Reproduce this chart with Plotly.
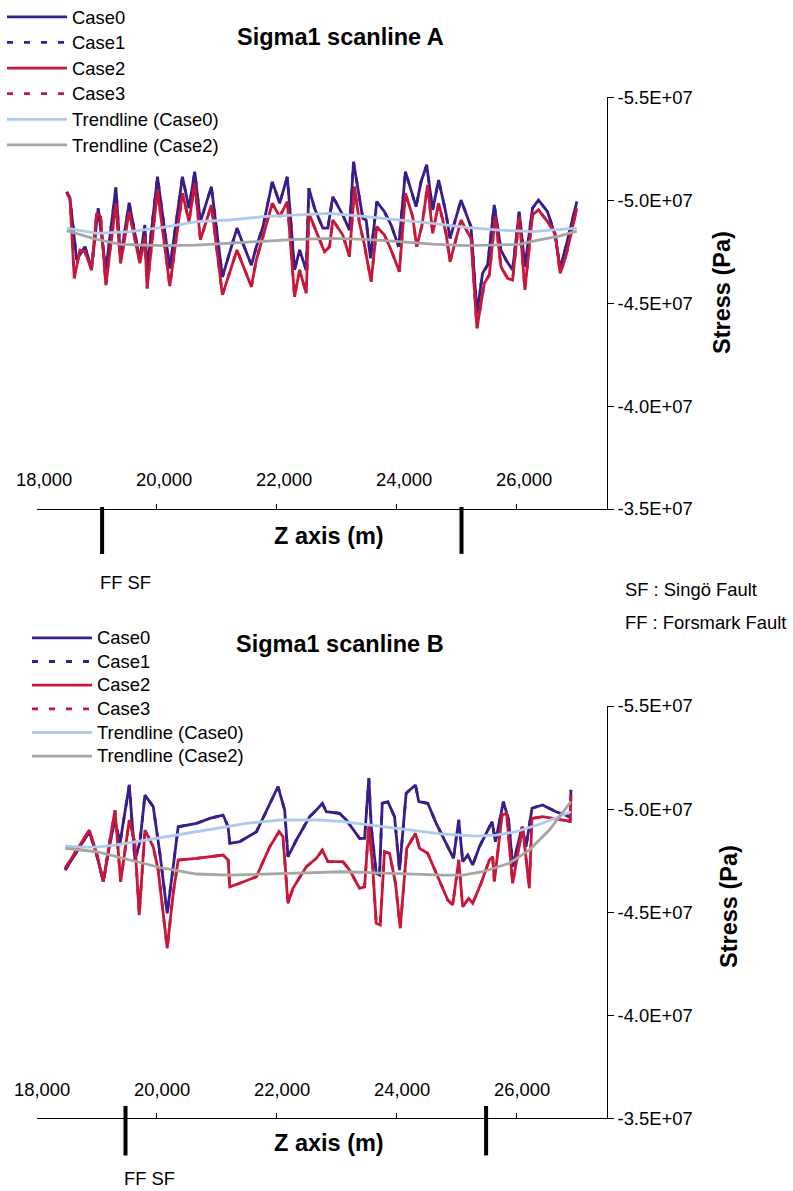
import numpy as np
import plotly.graph_objects as go

# ---------------------------------------------------------------
# Sigma1 along two scanlines: (Z position in m, stress in MPa)
# ---------------------------------------------------------------
a_case0 = [(18500, -50.41), (18554, -50.10), (18666, -47.10), (18804, -47.74), (18915, -46.69),
           (19025, -49.61), (19153, -46.61), (19320, -50.63), (19398, -47.18), (19541, -49.88),
           (19719, -47.10), (19802, -48.80), (19840, -46.61), (20013, -51.14), (20218, -46.69),
           (20429, -51.14), (20539, -49.61), (20634, -51.39), (20729, -48.96), (20912, -50.66),
           (21095, -46.28), (21338, -48.64), (21578, -46.85), (21661, -47.74), (21771, -48.71),
           (21927, -50.90), (22049, -49.85), (22177, -51.14), (22298, -46.61), (22381, -47.58),
           (22493, -46.61), (22536, -50.58), (22631, -49.61), (22769, -48.64), (22852, -48.64),
           (22935, -50.17), (23102, -49.28), (23213, -48.55), (23280, -51.87), (23351, -50.66),
           (23435, -49.12), (23491, -49.04), (23563, -47.18), (23668, -49.93), (23796, -49.44),
           (23907, -48.80), (24034, -47.74), (24145, -51.39), (24240, -50.50), (24323, -49.69),
           (24406, -50.90), (24500, -51.71), (24599, -49.53), (24699, -50.98), (24822, -49.36),
           (24889, -48.15), (25072, -50.01), (25238, -48.71), (25338, -44.51), (25431, -46.45),
           (25515, -46.85), (25626, -49.77), (25738, -47.58), (25821, -47.10), (25931, -46.61),
           (26042, -49.44), (26137, -46.77), (26263, -49.61), (26363, -50.01), (26513, -49.44),
           (26641, -48.31), (26724, -46.69), (26819, -47.74), (27002, -49.93)]
# Case1 coincides with Case0 on this scanline
a_case1 = list(a_case0)
a_case2 = [(18500, -50.37), (18554, -50.09), (18626, -46.21), (18720, -47.58), (18804, -47.50),
           (18915, -46.61), (18998, -49.36), (19065, -49.20), (19153, -45.88), (19320, -49.85),
           (19398, -46.94), (19541, -49.44), (19719, -46.94), (19802, -48.23), (19840, -45.72),
           (20013, -50.50), (20218, -45.83), (20429, -50.34), (20539, -48.96), (20634, -50.82),
           (20729, -48.07), (20912, -49.77), (21095, -45.40), (21338, -47.58), (21578, -45.80),
           (21661, -47.10), (21927, -49.85), (22049, -49.20), (22177, -49.93), (22298, -45.31),
           (22381, -46.61), (22493, -45.48), (22536, -49.36), (22659, -48.47), (22797, -47.50),
           (22881, -47.74), (22935, -49.04), (23102, -48.31), (23213, -47.26), (23297, -50.66),
           (23380, -48.88), (23463, -47.82), (23574, -46.04), (23668, -48.71), (23796, -48.31),
           (23907, -47.58), (24045, -46.53), (24145, -50.34), (24267, -49.20), (24333, -47.74),
           (24423, -48.80), (24516, -50.74), (24599, -48.39), (24699, -49.85), (24822, -48.39),
           (24889, -47.01), (25072, -49.04), (25238, -48.15), (25338, -43.78), (25460, -45.96),
           (25543, -46.37), (25643, -49.20), (25738, -46.77), (25847, -46.21), (25931, -46.12),
           (26042, -49.20), (26137, -45.64), (26263, -49.28), (26363, -49.53), (26513, -48.96),
           (26641, -48.39), (26724, -46.45), (26819, -47.26), (27002, -49.61)]
a_case3 = list(a_case2)
a_trend0 = [(18500, -48.64), (18998, -48.39), (19553, -48.47), (20107, -48.68), (20662, -48.96),
            (21217, -49.04), (21771, -49.20), (22326, -49.28), (22881, -49.36), (23491, -49.20),
            (24045, -49.04), (24599, -48.88), (25155, -48.68), (25709, -48.55), (26263, -48.47),
            (26596, -48.55), (27002, -48.64)]
a_trend2 = [(18500, -48.52), (18998, -48.10), (19398, -47.86), (20107, -47.79), (20662, -47.82),
            (21217, -47.91), (21771, -48.03), (22326, -48.10), (22935, -48.15), (23491, -48.10),
            (24045, -47.99), (24599, -47.87), (25155, -47.79), (25709, -47.82), (26042, -47.86),
            (26375, -48.07), (26708, -48.26), (27002, -48.50)]

b_case0 = [(18475, -47.04), (18667, -47.93), (18877, -48.90), (19000, -47.77), (19110, -46.48),
           (19221, -48.34), (19305, -49.47), (19388, -48.34), (19543, -51.17), (19637, -47.53),
           (19721, -48.42), (19804, -50.68), (19942, -50.12), (20053, -47.85), (20175, -44.94),
           (20275, -47.20), (20358, -49.14), (20664, -49.31), (20885, -49.55), (21107, -49.71),
           (21190, -49.14), (21218, -48.34), (21385, -48.42), (21662, -48.90), (21884, -50.28),
           (22022, -51.09), (22133, -49.95), (22188, -47.69), (22328, -48.50), (22549, -49.63),
           (22661, -49.95), (22761, -50.28), (22827, -49.87), (23049, -49.79), (23160, -49.47),
           (23381, -48.58), (23465, -48.58), (23536, -51.49), (23576, -49.14), (23659, -46.88),
           (23714, -46.80), (23759, -50.28), (23852, -50.36), (23964, -49.63), (24047, -47.04),
           (24158, -50.77), (24313, -51.17), (24368, -50.36), (24518, -50.28), (24658, -49.31),
           (24824, -48.34), (24946, -47.61), (25034, -49.47), (25100, -47.45), (25184, -47.77),
           (25267, -47.29), (25378, -48.17), (25490, -48.82), (25590, -49.39), (25645, -48.42),
           (25778, -50.36), (25866, -49.47), (25932, -47.20), (26089, -49.14), (26155, -48.17),
           (26255, -50.04), (26431, -50.20), (26654, -49.87), (26821, -49.71), (26890, -49.60),
           (26904, -50.93)]
b_case1 = list(b_case0)
b_case2 = [(18475, -47.13), (18667, -48.01), (18877, -48.98), (19000, -47.85), (19110, -46.48),
           (19221, -48.50), (19305, -49.95), (19399, -46.48), (19543, -49.47), (19637, -48.34),
           (19709, -44.86), (19804, -48.98), (19942, -48.17), (20025, -47.04), (20175, -43.25),
           (20275, -45.91), (20358, -47.53), (20664, -47.61), (20885, -47.69), (21107, -47.77),
           (21190, -47.53), (21218, -46.23), (21385, -46.40), (21662, -46.72), (21884, -48.17),
           (22039, -48.90), (22105, -48.66), (22188, -45.43), (22271, -46.16), (22494, -47.20),
           (22661, -47.61), (22761, -48.01), (22854, -47.45), (23103, -47.45), (23215, -47.04),
           (23381, -46.16), (23465, -46.23), (23536, -49.23), (23603, -47.04), (23659, -44.46),
           (23726, -44.38), (23797, -47.93), (23881, -47.85), (23980, -46.40), (24059, -44.22),
           (24168, -48.10), (24313, -48.82), (24380, -48.10), (24518, -47.85), (24684, -46.72),
           (24851, -45.59), (24934, -45.35), (25034, -47.53), (25100, -45.26), (25200, -45.67),
           (25267, -45.43), (25406, -46.40), (25545, -47.53), (25599, -47.69), (25628, -46.48),
           (25756, -49.71), (25832, -49.79), (25932, -46.40), (26099, -49.14), (26210, -46.16),
           (26255, -49.55), (26431, -49.63), (26764, -49.47), (26890, -49.40), (26904, -50.68)]
b_case3 = list(b_case2)
b_trend0 = [(18475, -48.21), (18722, -48.15), (19000, -48.15), (19333, -48.26), (19832, -48.50),
            (20331, -48.74), (20940, -49.07), (21496, -49.31), (22050, -49.47), (22716, -49.47),
            (23103, -49.39), (23659, -49.18), (24213, -48.98), (24767, -48.79), (25323, -48.69),
            (25656, -48.74), (25989, -48.90), (26431, -49.31), (26904, -49.87)]
b_trend2 = [(18475, -48.10), (19000, -47.93), (19554, -47.53), (20108, -47.13), (20664, -46.85),
            (21218, -46.80), (21772, -46.84), (22328, -46.88), (22716, -46.91), (23103, -46.96),
            (23659, -46.91), (24213, -46.85), (24767, -46.80), (25100, -46.80), (25433, -46.96),
            (25877, -47.37), (26210, -48.01), (26543, -48.98), (26904, -50.36)]

# Fault crossings along each scanline (FF then SF), Z in m
faults_a = [19090, 25080]
faults_b = [19480, 25490]

x_ticks = [18000, 20000, 22000, 24000, 26000]
x_tick_labels = ["18,000", "20,000", "22,000", "24,000", "26,000"]
y_ticks = [-55e6, -50e6, -45e6, -40e6, -35e6]
y_tick_labels = ["-5.5E+07", "-5.0E+07", "-4.5E+07", "-4.0E+07", "-3.5E+07"]

series_names = ["Case0", "Case1", "Case2", "Case3", "Trendline (Case0)", "Trendline (Case2)"]

# ---------------------------------------------------------------
W, H = 793, 1191
FONT = "Liberation Sans, Arial, Helvetica, sans-serif"
PURPLE = "#3A1D8A"
RED = "#C8173A"
LIGHTBLUE = "#AFCBEC"
GREY = "#A6A6A6"
TEXT_SIZE = 18.4

styles = [
    dict(color=PURPLE, width=2.8, dash="solid"),
    dict(color=PURPLE, width=2.8, dash="6px,11px"),
    dict(color=RED, width=2.8, dash="solid"),
    dict(color=RED, width=2.8, dash="6px,11px"),
    dict(color=LIGHTBLUE, width=2.8, dash="solid"),
    dict(color=GREY, width=2.8, dash="solid"),
]


def unzip(pairs):
    z = np.array([p[0] for p in pairs], dtype=float)
    s = np.array([p[1] for p in pairs], dtype=float) * 1e6  # MPa -> Pa
    return z, s


fig = go.Figure()

panels = [
    ("x", "y", "legend", [a_case0, a_case1, a_case2, a_case3, a_trend0, a_trend2]),
    ("x2", "y2", "legend2", [b_case0, b_case1, b_case2, b_case3, b_trend0, b_trend2]),
]
for xa, ya, leg, data in panels:
    for name, pairs, st in zip(series_names, data, styles):
        z, s = unzip(pairs)
        # legend rows are packed tighter than the label size, so the label
        # carries its own font size while the legend font sets the row pitch
        label = '<span style="font-size:%spx">%s</span>' % (TEXT_SIZE, name)
        fig.add_trace(go.Scatter(
            x=z, y=s, mode="lines", name=label, xaxis=xa, yaxis=ya, legend=leg,
            line=dict(color=st["color"], width=st["width"], dash=st["dash"]),
            hoverinfo="skip",
        ))

x_dom = [36.7 / W, 606.7 / W]
ya_dom = [1 - 509.0 / H, 1 - 97.3 / H]
yb_dom = [1 - 1118.3 / H, 1 - 706.0 / H]

tick_font = dict(family=FONT, size=TEXT_SIZE, color="black")


def xaxis_cfg(anchor):
    return dict(
        domain=x_dom, anchor=anchor, range=[18000, 27500],
        tickmode="array", tickvals=x_ticks, showticklabels=False,
        ticks="inside", ticklen=5, tickwidth=1.2, tickcolor="black",
        showline=True, linecolor="black", linewidth=1.3,
        showgrid=False, zeroline=False, fixedrange=True,
    )


def yaxis_cfg(anchor, dom):
    return dict(
        domain=dom, anchor=anchor, side="right", range=[-35e6, -55e6],
        tickmode="array", tickvals=y_ticks, ticktext=y_tick_labels,
        ticks="outside", ticklen=6, tickwidth=1.2, tickcolor="black",
        tickfont=tick_font, showline=True, linecolor="black", linewidth=1.3,
        showgrid=False, zeroline=False, fixedrange=True,
    )


title_font = dict(family=FONT, size=23.5, color="black")
label_font = dict(family=FONT, size=TEXT_SIZE, color="black")

annotations = []
for text, y_px in [("Sigma1 scanline A", 37), ("Sigma1 scanline B", 644)]:
    annotations.append(dict(text="<b>%s</b>" % text, x=340 / W, y=1 - y_px / H,
                            xref="paper", yref="paper", showarrow=False,
                            xanchor="center", yanchor="middle", font=title_font))
for y_px in [536, 1143]:
    annotations.append(dict(text="<b>Z axis (m)</b>", x=328.7 / W, y=1 - y_px / H,
                            xref="paper", yref="paper", showarrow=False,
                            xanchor="center", yanchor="middle", font=title_font))
for x_px, y_px in [(722, 293), (729, 907)]:
    annotations.append(dict(text="<b>Stress (Pa)</b>", x=x_px / W, y=1 - y_px / H,
                            xref="paper", yref="paper", showarrow=False, textangle=-90,
                            xanchor="center", yanchor="middle", font=title_font))

# Z tick labels sit just above the axis line
for xr, y_px, shift in [("x", 480, 7), ("x2", 1089, 5)]:
    for tv, tl in zip(x_ticks, x_tick_labels):
        annotations.append(dict(text=tl, x=tv, xref=xr, y=1 - y_px / H, yref="paper",
                                xanchor="center", yanchor="middle", xshift=shift,
                                showarrow=False, font=label_font))

# fault markers below the Z axis
shapes = []
for xr, yr, faults, y0, y1, lab_y in [("x", "y domain", faults_a, 0.005, -0.109, 583),
                                       ("x2", "y2 domain", faults_b, 0.030, -0.090, 1178)]:
    for fz in faults:
        shapes.append(dict(type="line", xref=xr, yref=yr, x0=fz, x1=fz, y0=y0, y1=y1,
                           line=dict(color="black", width=4)))
    annotations.append(dict(text="FF SF", x=faults[0], xref=xr, y=1 - lab_y / H, yref="paper",
                            xanchor="left", yanchor="middle", xshift=-4, showarrow=False,
                            font=label_font))

for text, y_px in [("SF : Singö Fault", 589), ("FF : Forsmark Fault", 622)]:
    annotations.append(dict(text=text, x=623 / W, y=1 - y_px / H, xref="paper", yref="paper",
                            xanchor="left", yanchor="middle", showarrow=False, font=label_font))


def legend_cfg(x_px, top_px, size):
    return dict(x=x_px / W, y=1 - top_px / H, xanchor="left", yanchor="top",
                font=dict(family=FONT, size=size, color="black"),
                itemwidth=60, bgcolor="rgba(0,0,0,0)", borderwidth=0,
                tracegroupgap=0, traceorder="normal")


fig.update_layout(
    width=W, height=H,
    margin=dict(l=0, r=0, t=0, b=0, autoexpand=False),
    paper_bgcolor="white", plot_bgcolor="white",
    font=dict(family=FONT, color="black"),
    showlegend=True,
    xaxis=xaxis_cfg("y"), yaxis=yaxis_cfg("x", ya_dom),
    xaxis2=xaxis_cfg("y2"), yaxis2=yaxis_cfg("x2", yb_dom),
    legend=legend_cfg(2, -1, 17.4),
    legend2=legend_cfg(27, 621, 15.9),
    annotations=annotations,
    shapes=shapes,
)

fig.write_html("out.html")
